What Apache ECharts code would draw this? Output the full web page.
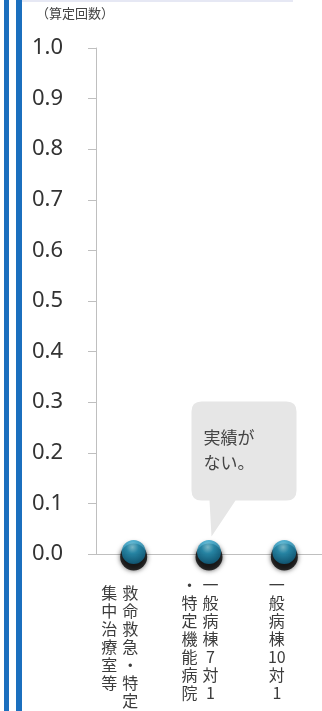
<!DOCTYPE html>
<html>
<head>
<meta charset="utf-8">
<script src="https://cdn.jsdelivr.net/npm/echarts@6/dist/echarts.min.js"></script>
<style>
html, body { margin: 0; padding: 0; background: #fff; }
#chart { width: 322px; height: 711px; }
</style>
</head>
<body>
<div id="chart"></div>
<script>
// 区分
var categories = ['救命救急・特定集中治療室等', '一般病棟7対1・特定機能病院', '一般病棟10対1']
// 縦書きラベルの列（右の列から）
var labelColumns = [
  ['救命救急・特定', '集中治療室等'],
  ['一般病棟7対1', '・特定機能病院'],
  ['一般病棟10対1']
]
// 算定回数
var counts = [0, 0, 0]
// y軸
var yMin = 0
var yMax = 1
var yStep = 0.1
// 吹き出し
var noteText = ['実績が', 'ない。']
var noteIndex = 1

var axisGrey = '#bfbfbf'

// 数字はまとめて1マスにする
function cells(s) {
  return s.match(/[0-9]+|./g)
}

var myChart = echarts.init(document.getElementById('chart'))

myChart.setOption({
  animation: false,
  title: {
    text: '（算定回数）',
    left: 36,
    top: 7,
    padding: 0,
    textStyle: { fontSize: 13, fontWeight: 'normal', color: '#444', fontFamily: 'Noto Sans CJK JP' }
  },
  // 左の青い二重線と上の細い線
  graphic: [
    { type: 'rect', shape: { x: 4, y: 0, width: 5, height: 711 }, style: { fill: '#1b6fbe' } },
    { type: 'rect', shape: { x: 16, y: 0, width: 6, height: 711 }, style: { fill: '#1b6fbe' } },
    { type: 'rect', shape: { x: 22, y: 0, width: 271, height: 2 }, style: { fill: '#e6e8f4' } }
  ],
  grid: {
    left: 96,
    right: 0,
    top: 48,
    bottom: 157,
    outerBoundsMode: 'none'
  },
  xAxis: {
    type: 'category',
    data: categories,
    axisLine: { lineStyle: { color: axisGrey, width: 1 } },
    axisTick: { length: 8, lineStyle: { color: axisGrey } },
    axisLabel: {
      interval: 0,
      margin: 22,
      verticalAlign: 'top',
      lineHeight: 18,
      formatter: function (value, idx) {
        var cols = labelColumns[idx].map(cells)
        var n = Math.max.apply(null, cols.map(function (c) { return c.length }))
        var rows = []
        if (idx === 0) rows.push('{v| }')
        for (var i = 0; i < n; i++) {
          var r = '{c|' + (cols[0][i] || '　') + '}'
          var l = cols[1] ? '{c|' + (cols[1][i] || '　') + '}' : ''
          rows.push(l + r + '{s' + idx + '| }')
        }
        return rows.join('\n')
      },
      rich: {
        c: { width: 21, align: 'center', fontSize: 16, lineHeight: 18, color: '#3c3c3c', fontFamily: 'Noto Sans CJK JP' },
        s0: { width: 28, lineHeight: 18 },
        s1: { width: 18, lineHeight: 18 },
        s2: { width: 15, lineHeight: 18 },
        v: { lineHeight: 8, height: 8, fontSize: 6 }
      }
    }
  },
  yAxis: {
    type: 'value',
    min: yMin,
    max: yMax,
    interval: yStep,
    axisLine: { show: true, lineStyle: { color: axisGrey, width: 1 } },
    axisTick: { show: true, length: 8, lineStyle: { color: axisGrey } },
    splitLine: { show: false },
    axisLabel: {
      margin: 33,
      fontSize: 22,
      fontFamily: 'Noto Sans',
      color: '#333',
      padding: [0, 0, 6, 0],
      formatter: function (v) { return v.toFixed(1) }
    }
  },
  series: [
    {
      // 玉の下の黒い影
      type: 'scatter',
      data: counts,
      clip: false,
      silent: true,
      symbolSize: 27,
      symbolOffset: [0, 3],
      z: 1,
      itemStyle: {
        color: '#050505',
        shadowBlur: 5,
        shadowColor: 'rgba(0,0,0,0.8)'
      }
    },
    {
      type: 'scatter',
      data: counts,
      clip: false,
      symbolSize: 24,
      symbolOffset: [0, -2],
      z: 3,
      itemStyle: {
        color: {
          type: 'radial', x: 0.45, y: 0.3, r: 0.75,
          colorStops: [
            { offset: 0, color: '#8fdcf0' },
            { offset: 0.35, color: '#2a9fc6' },
            { offset: 1, color: '#0c5c7e' }
          ]
        }
      },
      markPoint: {
        silent: true,
        symbol: 'path://M10,0 L95,0 Q105,0 105,10 L105,89 Q105,99 95,99 L44,99 L20,135 L18,99 L10,99 Q0,99 0,89 L0,10 Q0,0 10,0 Z',
        symbolSize: [105, 135],
        symbolOffset: [35, -85],
        itemStyle: { color: '#e6e6e6' },
        label: {
          show: true,
          position: 'inside',
          offset: [-15, -19],
          formatter: noteText.join('\n'),
          fontSize: 17,
          lineHeight: 25,
          color: '#444',
          fontFamily: 'Noto Sans CJK JP'
        },
        data: [{ coord: [noteIndex, counts[noteIndex]] }]
      }
    }
  ]
})
</script>
</body>
</html>
